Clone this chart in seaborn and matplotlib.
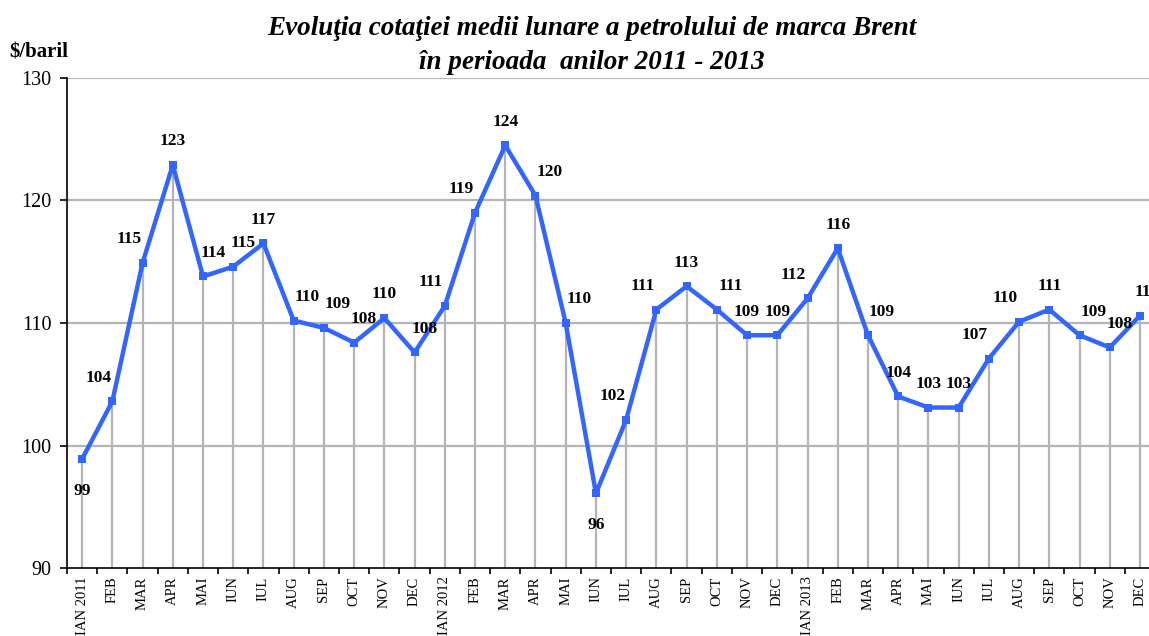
import numpy as np
import pandas as pd
import matplotlib
matplotlib.use("Agg")
import matplotlib.pyplot as plt
import seaborn as sns

# Monthly average Brent price, Jan 2011 - Dec 2013 ($/barrel)
months = ["IAN 2011", "FEB", "MAR", "APR", "MAI", "IUN", "IUL", "AUG", "SEP", "OCT", "NOV", "DEC",
          "IAN 2012", "FEB", "MAR", "APR", "MAI", "IUN", "IUL", "AUG", "SEP", "OCT", "NOV", "DEC",
          "IAN 2013", "FEB", "MAR", "APR", "MAI", "IUN", "IUL", "AUG", "SEP", "OCT", "NOV", "DEC"]
price = [98.9, 103.6, 114.9, 122.9, 113.8, 114.6, 116.5, 110.2, 109.6, 108.4, 110.4, 107.6,
         111.4, 119.0, 124.5, 120.4, 110.0, 96.1, 102.1, 111.1, 113.0, 111.1, 109.0, 109.0,
         112.0, 116.1, 109.0, 104.0, 103.1, 103.1, 107.1, 110.1, 111.1, 109.0, 108.0, 110.6]
labels = ["99", "104", "115", "123", "114", "115", "117", "110", "109", "108", "110", "108",
          "111", "119", "124", "120", "110", "96", "102", "111", "113", "111", "109", "109",
          "112", "116", "109", "104", "103", "103", "107", "110", "111", "109", "108", "111"]

df = pd.DataFrame({"pos": np.arange(len(months)), "price": price})

sns.set_theme(style="white")
plt.rcParams["font.family"] = ["Liberation Serif", "DejaVu Serif"]
plt.rcParams["text.color"] = "black"
plt.rcParams["xtick.color"] = "black"
plt.rcParams["ytick.color"] = "black"

fig = plt.figure(figsize=(11.49, 6.36), dpi=100)
ax = fig.add_axes([0.0583, 0.1069, 0.947, 0.7705])

# drop lines from each point to the axis
ax.vlines(df["pos"], 90, df["price"], color="#b4b4b4", lw=1.6, zorder=1)
for yv in [100, 110, 120, 130]:
    ax.axhline(yv, color="#b4b4b4", lw=1.6, zorder=1)

sns.lineplot(data=df, x="pos", y="price", ax=ax, color="#3366ff", lw=3.2,
             marker="s", markersize=6, markeredgewidth=0, zorder=3)

# data labels
for i, (v, t) in enumerate(zip(price, labels)):
    prev = price[i - 1] if i > 0 else None
    nxt = price[i + 1] if i < len(price) - 1 else None
    if v < 100:
        ax.annotate(t, (i, v), xytext=(0, -23), textcoords="offset points",
                    ha="center", va="center", fontsize=12.5, fontweight="bold")
        continue
    dx = 0
    if prev is not None and nxt is not None:
        if prev < v < nxt:
            dx = -10 if v - prev > 2 else 7
        elif prev > v > nxt:
            dx = 0 if (v - nxt < 1 and prev - v < 6) else 10
        elif v < prev and v < nxt:
            dx = 7
    elif nxt is None:
        dx = 5
    ax.annotate(t, (i, v), xytext=(dx, 17), textcoords="offset points",
                ha="center", va="center", fontsize=12.5, fontweight="bold")

ax.set_xlim(-0.5, len(months) - 0.5)
ax.set_ylim(90, 130)
ax.set_yticks([90, 100, 110, 120, 130])
ax.set_xticks(df["pos"])
ax.set_xticklabels(months, rotation=90, fontsize=10.5, va="top")
ax.set_xticks(np.arange(-0.5, len(months), 1), minor=True)
ax.tick_params(axis="x", which="major", length=0, pad=6)
ax.tick_params(axis="x", which="minor", length=4, width=1.2, color="black", direction="out", bottom=True)
ax.tick_params(axis="y", length=5, width=1.2, color="black", direction="out", left=True, labelsize=14.5, pad=6)
ax.set_xlabel("")
ax.set_ylabel("")

for s in ["top", "right"]:
    ax.spines[s].set_visible(False)
for s in ["left", "bottom"]:
    ax.spines[s].set_color("black")
    ax.spines[s].set_linewidth(1.2)

fig.text(0.515, 0.955, "Evoluţia cotaţiei medii lunare a petrolului de marca Brent",
         ha="center", va="center", fontsize=19.5, fontweight="bold", fontstyle="italic")
fig.text(0.515, 0.902, "în perioada  anilor 2011 - 2013",
         ha="center", va="center", fontsize=19.5, fontweight="bold", fontstyle="italic")
fig.text(0.008, 0.918, "$/baril", ha="left", va="center", fontsize=15, fontweight="bold")

fig.savefig("out.png", dpi=100)
